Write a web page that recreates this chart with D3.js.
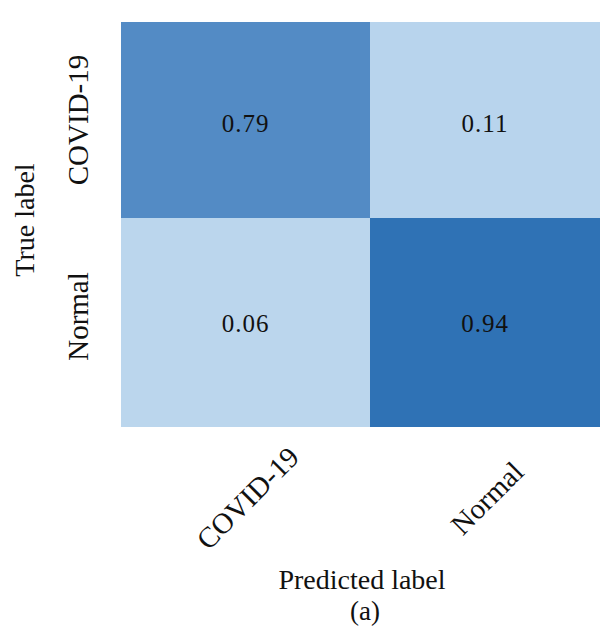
<!DOCTYPE html>
<html>
<head>
<meta charset="utf-8">
<script src="https://cdn.jsdelivr.net/npm/d3@7"></script>
<style>
  html, body { margin: 0; padding: 0; background: #ffffff; }
  svg { display: block; }
  text { font-family: "Liberation Serif", "Times New Roman", serif; fill: #111; }
</style>
</head>
<body>
<svg id="chart" width="603" height="632"></svg>
<script>
// Confusion matrix (normalized)
const trueLabels = ["COVID-19", "Normal"];
const predictedLabels = ["COVID-19", "Normal"];
const rowCOVID = [0.79, 0.11];
const rowNormal = [0.06, 0.94];
const matrix = [rowCOVID, rowNormal];

const svg = d3.select("#chart");

// Cell boundaries along each axis
const xEdge = d3.scaleLinear().domain([0, 1, 2]).range([121, 370, 600]);
const yEdge = d3.scaleLinear().domain([0, 1, 2]).range([22, 218, 427]);

const color = d3.scaleLinear()
  .domain([0.06, 0.11, 0.79, 0.94])
  .range(["#bbd6ed", "#b8d4ed", "#538bc5", "#2f72b5"]);

const cells = [];
matrix.forEach((row, r) => row.forEach((v, c) => cells.push({ r, c, v })));

const g = svg.append("g");

g.selectAll("rect.cell")
  .data(cells)
  .join("rect")
  .attr("class", "cell")
  .attr("x", d => xEdge(d.c))
  .attr("y", d => yEdge(d.r))
  .attr("width", d => xEdge(d.c + 1) - xEdge(d.c))
  .attr("height", d => yEdge(d.r + 1) - yEdge(d.r))
  .attr("fill", d => color(d.v));

g.selectAll("text.val")
  .data(cells)
  .join("text")
  .attr("class", "val")
  .attr("x", d => (xEdge(d.c) + xEdge(d.c + 1)) / 2)
  .attr("y", d => (yEdge(d.r) + yEdge(d.r + 1)) / 2 + (d.r === 0 ? 3 : 1))
  .attr("text-anchor", "middle")
  .attr("dominant-baseline", "central")
  .attr("font-size", 25)
  .attr("letter-spacing", 1)
  .attr("fill", "#1a1f2e")
  .text(d => d.v.toFixed(2));

// Row (true) tick labels, rotated vertically
g.selectAll("text.ytick")
  .data(trueLabels)
  .join("text")
  .attr("class", "ytick")
  .attr("transform", (d, i) => `translate(88,${(yEdge(i) + yEdge(i + 1)) / 2 - (i === 0 ? 0 : 6)}) rotate(-90)`)
  .attr("text-anchor", "middle")
  .attr("font-size", 29)
  .text(d => d);

// Column (predicted) tick labels, rotated 45 degrees
g.selectAll("text.xtick")
  .data(predictedLabels)
  .join("text")
  .attr("class", "xtick")
  .attr("transform", (d, i) => `translate(${(xEdge(i) + xEdge(i + 1)) / 2 + 2},498) rotate(-45)`)
  .attr("text-anchor", "middle")
  .attr("dominant-baseline", "central")
  .attr("font-size", 29)
  .text(d => d);

// Axis titles
svg.append("text")
  .attr("transform", `translate(34,220) rotate(-90)`)
  .attr("text-anchor", "middle")
  .attr("font-size", 28)
  .text("True label");

svg.append("text")
  .attr("x", 362)
  .attr("y", 589)
  .attr("text-anchor", "middle")
  .attr("font-size", 28)
  .text("Predicted label");

svg.append("text")
  .attr("x", 365)
  .attr("y", 620)
  .attr("text-anchor", "middle")
  .attr("font-size", 27)
  .text("(a)");
</script>
</body>
</html>
